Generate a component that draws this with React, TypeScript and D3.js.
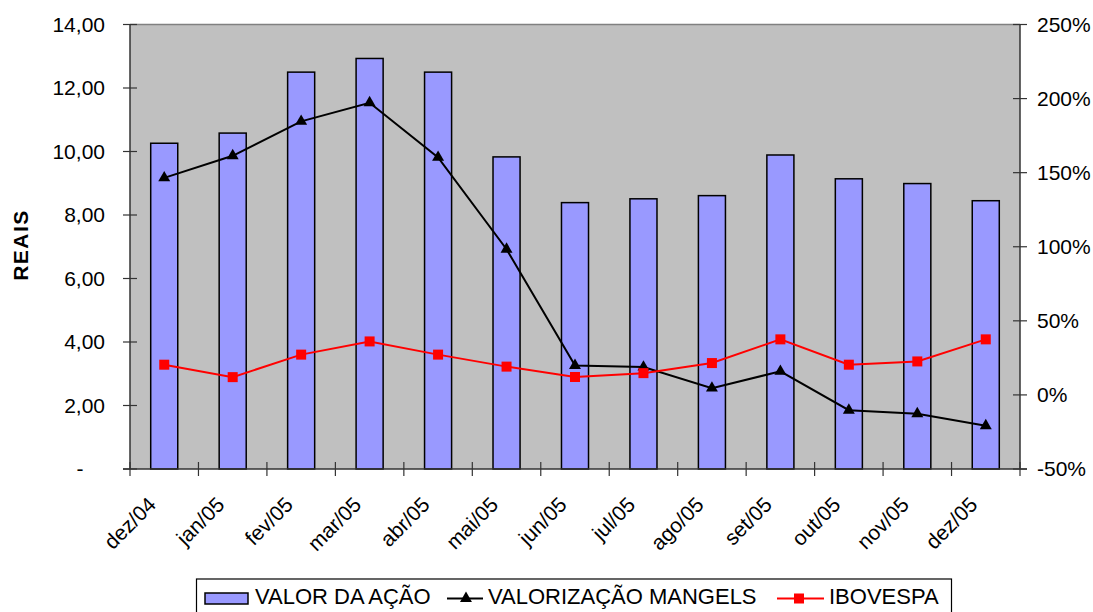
import React from "react";
import * as d3 from "d3";

const categories = ["dez/04", "jan/05", "fev/05", "mar/05", "abr/05", "mai/05", "jun/05", "jul/05", "ago/05", "set/05", "out/05", "nov/05", "dez/05"];
const valorAcao = [10.26, 10.58, 12.5, 12.93, 12.5, 9.83, 8.39, 8.51, 8.61, 9.89, 9.14, 8.99, 8.45];
const valorizacaoMangels = [146.5, 161.4, 184.6, 197.2, 160.3, 98.3, 19.9, 18.8, 4.6, 15.9, -10.3, -12.7, -20.8];
const ibovespa = [20.4, 12.0, 27.2, 36.1, 27.2, 19.1, 12.1, 14.7, 21.5, 37.5, 20.4, 22.6, 37.5];
const leftTicks = [0, 2, 4, 6, 8, 10, 12, 14];
const rightTicks = [-50, 0, 50, 100, 150, 200, 250];
const seriesNames = ["VALOR DA AÇÃO", "VALORIZAÇÃO MANGELS", "IBOVESPA"];
const leftTitle = "REAIS";

const W = 1093, H = 612;
const L = 130, R = 1020, T = 24.5, B = 469;
const FONT = "'Liberation Sans', Arial, Helvetica, sans-serif";

export default function App() {
  const x = d3.scaleBand().domain(categories).range([L, R]).paddingInner(0).paddingOuter(0);
  const yL = d3.scaleLinear().domain([0, 14]).range([B, T]);
  const yR = d3.scaleLinear().domain([-50, 250]).range([B, T]);
  const bw = x.bandwidth();
  const barW = bw * 0.395;
  const cx = (c: string) => (x(c) as number) + bw / 2;

  const lineM = d3.line<number>().x((_, i) => cx(categories[i])).y((d) => yR(d));
  const fmtL = (v: number) => (v === 0 ? "-" : d3.format(".2f")(v).replace(".", ","));
  const fmtR = (v: number) => `${v}%`;
  const tri = d3.symbol().type(d3.symbolTriangle).size(62)();

  const boundaries = d3.range(categories.length + 1).map((i) => L + i * bw);

  return (
    <svg width={W} height={H} style={{ position: "absolute", left: 0, top: 0, background: "#fff" }} fontFamily={FONT}>
      {/* plot area */}
      <rect x={L} y={T} width={R - L} height={B - T} fill="#C0C0C0" />
      <line x1={L} x2={R} y1={T} y2={T} stroke="#808080" strokeWidth={1.5} />
      {/* bars */}
      {categories.map((c, i) => (
        <rect key={c} x={cx(c) - barW / 2} y={yL(valorAcao[i])} width={barW} height={B - yL(valorAcao[i])}
          fill="#9999FF" stroke="#000" strokeWidth={1.5} />
      ))}
      {/* axes */}
      <line x1={L} x2={L} y1={T} y2={B} stroke="#333" strokeWidth={1.5} />
      <line x1={R} x2={R} y1={T} y2={B} stroke="#333" strokeWidth={1.5} />
      <line x1={L - 7} x2={R + 7} y1={B} y2={B} stroke="#333" strokeWidth={1.5} />
      {leftTicks.map((v) => (
        <g key={"l" + v}>
          <line x1={L - 7} x2={L + 7} y1={yL(v)} y2={yL(v)} stroke="#333" strokeWidth={1.2} />
          <text x={v === 0 ? 80 : 105} y={yL(v)} dy="0.35em" textAnchor={v === 0 ? "middle" : "end"} fontSize={21} fill="#000">{fmtL(v)}</text>
        </g>
      ))}
      {rightTicks.map((v) => (
        <g key={"r" + v}>
          <line x1={R - 7} x2={R + 7} y1={yR(v)} y2={yR(v)} stroke="#333" strokeWidth={1.2} />
          <text x={1037} y={yR(v)} dy="0.35em" textAnchor="start" fontSize={21} fill="#000">{fmtR(v)}</text>
        </g>
      ))}
      {boundaries.map((bx, i) => (
        <line key={"xt" + i} x1={bx} x2={bx} y1={B - 7} y2={B + 7} stroke="#333" strokeWidth={1.2} />
      ))}
      {categories.map((c) => (
        <text key={"xl" + c} transform={`translate(${cx(c) - 7},${506}) rotate(-45)`} textAnchor="end" fontSize={21} fill="#000">{c}</text>
      ))}
      {/* valorizacao line */}
      <path d={lineM(valorizacaoMangels) || ""} fill="none" stroke="#000" strokeWidth={2} />
      {valorizacaoMangels.map((v, i) => (
        <path key={"t" + i} d={tri || ""} transform={`translate(${cx(categories[i])},${yR(v)})`} fill="#000" />
      ))}
      {/* ibovespa line */}
      <path d={lineM(ibovespa) || ""} fill="none" stroke="#FF0000" strokeWidth={2} />
      {ibovespa.map((v, i) => (
        <rect key={"s" + i} x={cx(categories[i]) - 5} y={yR(v) - 5} width={10} height={10} fill="#FF0000" />
      ))}
      {/* left title */}
      <text transform="translate(20.5,245) rotate(-90)" textAnchor="middle" dy="0.35em" fontSize={21} fontWeight="bold" letterSpacing={1.5} fill="#000">{leftTitle}</text>
      {/* legend */}
      <rect x={196.5} y={579} width={755} height={50} fill="#fff" stroke="#000" strokeWidth={1.2} />
      <rect x={205} y={593} width={43} height={11} fill="#9999FF" stroke="#000" strokeWidth={1.5} />
      <text x={255} y={604} fontSize={22} fill="#000">{seriesNames[0]}</text>
      <line x1={447} x2={483} y1={598.5} y2={598.5} stroke="#000" strokeWidth={2} />
      <path d={tri || ""} transform="translate(466,598.5)" fill="#000" />
      <text x={488} y={604} fontSize={22} fill="#000">{seriesNames[1]}</text>
      <line x1={777} x2={824} y1={598.5} y2={598.5} stroke="#FF0000" strokeWidth={2} />
      <rect x={794} y={593.5} width={10} height={10} fill="#FF0000" />
      <text x={829} y={604} fontSize={22} fill="#000">{seriesNames[2]}</text>
    </svg>
  );
}
